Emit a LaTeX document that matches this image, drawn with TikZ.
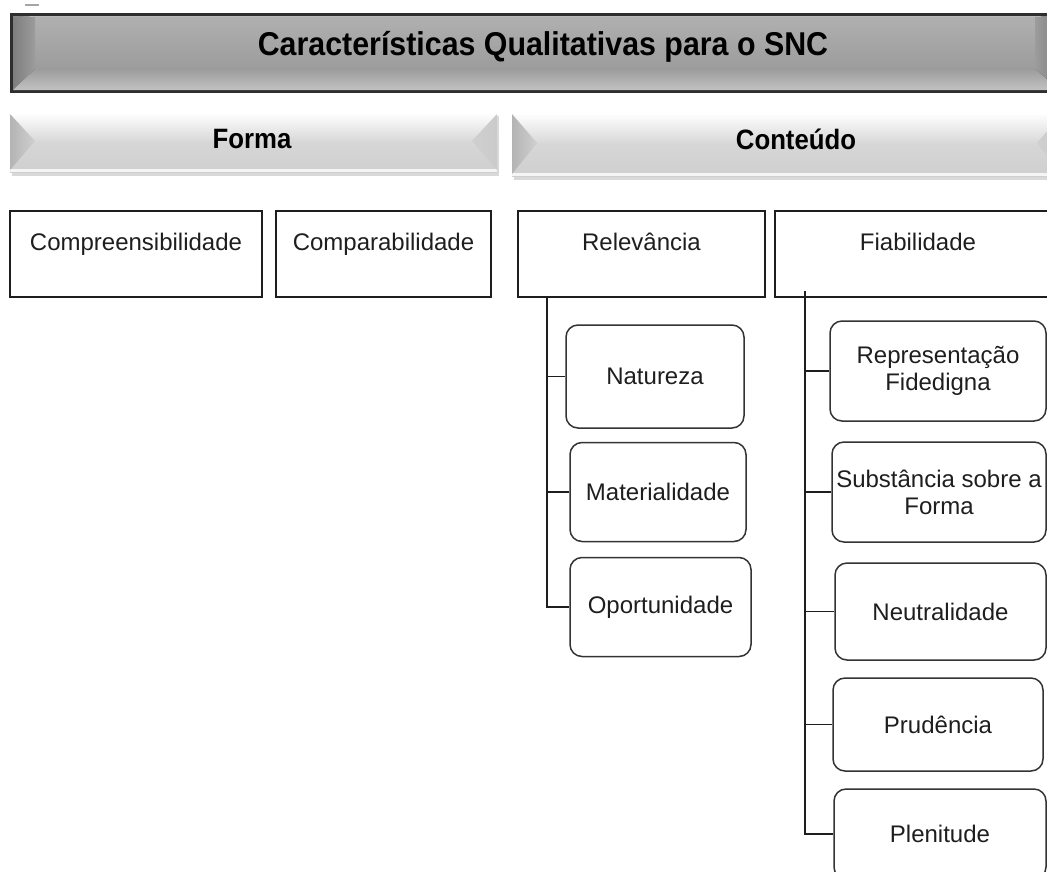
\documentclass[tikz,border=0pt]{standalone}
\usepackage{fontspec}
\setmainfont{Liberation Sans}
\newfontfamily\titlefont[FakeStretch=0.92]{Liberation Sans}
\newfontfamily\barfont[FakeStretch=0.92]{Liberation Sans}
\definecolor{barborder}{HTML}{2E2E2E}
\definecolor{barface}{HTML}{9C9C9C}
\definecolor{barlow}{HTML}{C2C2C2}
\definecolor{bardark}{HTML}{7E7E7E}
\definecolor{lightface}{HTML}{CFCFCF}
\definecolor{lightdark}{HTML}{B4B4B4}
\definecolor{inkc}{HTML}{1E1E1E}
\begin{document}
\begin{tikzpicture}[x=1pt,y=-1pt,
  catbox/.style={draw=inkc, line width=2.8pt, inner xsep=0pt, inner ysep=0pt,
    text height=39pt, text depth=47pt, font=\fontsize{24}{28}\selectfont, text=inkc},
  subbox/.style={draw=black!80, line width=1.5pt, rounded corners=12pt, align=center,
    inner sep=0pt, font=\fontsize{24}{27}\selectfont, text=inkc},
  conn/.style={draw=inkc, line width=1.5pt},
  bartext/.style={font=\fontsize{28}{30}\selectfont\barfont\bfseries, text=black},
]
\useasboundingbox (0,0) rectangle (1047,871);
\clip (0,0) rectangle (1047,871);

% small artifact
\draw[gray!70, line width=1.5pt] (25,5) -- (39,5);

% ---------- title bar ----------
\fill[barborder] (10,13) rectangle (1060,93);
\shade[top color=barface!80!white, bottom color=barface] (35,17) rectangle (1035,69);
\shade[left color=bardark, right color=barface] (13,16) -- (35,17) -- (35,69) -- (13,90) -- cycle;
\shade[top color=barface, bottom color=barlow] (13,90) -- (35,69) -- (1035,69) -- (1060,90) -- cycle;
\fill[barface!70!white] (13,16) -- (1060,16) -- (1035,17) -- (35,17) -- cycle;
\shade[left color=barface, right color=bardark] (1035,17) -- (1060,16) -- (1060,90) -- (1035,69) -- cycle;
\node[font=\fontsize{33}{36}\selectfont\titlefont\bfseries, text=black] (title) at (543,47) {Características Qualitativas para o SNC};

% ---------- Forma bar ----------
\fill[gray!30] (12,116) rectangle (499,176);
\shade[top color=white, bottom color=lightface, middle color=lightface!85!white] (10,113) rectangle (497,172);
\fill[white!92!gray] (10,169) rectangle (497,172);
\shade[left color=lightdark, right color=lightface] (10,114) -- (35,141) -- (10,170) -- cycle;
\shade[left color=lightface, right color=lightface!85!lightdark] (497,114) -- (472,141) -- (497,170) -- cycle;
\node[bartext] (forma) at (252,139) {Forma};

% ---------- Conteudo bar ----------
\fill[gray!30] (514,117) rectangle (1062,180);
\shade[top color=white, bottom color=lightface, middle color=lightface!85!white] (512,113) rectangle (1060,176);
\fill[white!92!gray] (512,173) rectangle (1060,176);
\shade[left color=lightdark, right color=lightface] (512,114) -- (537,143) -- (512,174) -- cycle;
\shade[left color=lightface, right color=lightface!85!lightdark] (1062,114) -- (1037,143) -- (1062,174) -- cycle;
\node[bartext] (conteudo) at (796,139) {Conteúdo};

% ---------- category boxes ----------
\node[catbox, minimum width=252pt] (comp) at (136,254) {Compreensibilidade};
\node[catbox, minimum width=215pt] (compa) at (383.5,254) {Comparabilidade};
\node[catbox, minimum width=247pt] (rel) at (641.5,254) {Relevância};
\node[catbox, minimum width=286pt] (fia) at (918,254) {Fiabilidade};

% ---------- Relevancia children ----------
\node[subbox, minimum width=178pt, minimum height=103pt] (nat) at (655,376.5) {Natureza};
\node[subbox, minimum width=176pt, minimum height=99pt] (mat) at (658,492) {Materialidade};
\node[subbox, minimum width=181pt, minimum height=99pt] (opo) at (660.5,607) {Oportunidade};

% ---------- Fiabilidade children ----------
\node[subbox, minimum width=216pt, minimum height=100pt] (rep) at (938,371) {Representação\\Fidedigna};
\node[subbox, minimum width=214pt, minimum height=100pt] (sub) at (939,492) {Substância sobre a\\Forma};
\node[subbox, minimum width=211pt, minimum height=97pt] (neu) at (940.5,611.5) {Neutralidade};
\node[subbox, minimum width=210pt, minimum height=93pt] (pru) at (938,724.5) {Prudência};
\node[subbox, minimum width=212pt, minimum height=90pt] (ple) at (940,834) {Plenitude};

% ---------- connectors ----------
\coordinate (relstem) at (547,297);
\coordinate (fiastem) at (805,291);
\draw[conn] (relstem) |- (opo.west);
\draw[conn] (relstem |- nat.west) -- (nat.west);
\draw[conn] (relstem |- mat.west) -- (mat.west);
\draw[conn] (fiastem) |- (ple.west);
\draw[conn] (fiastem |- rep.west) -- (rep.west);
\draw[conn] (fiastem |- sub.west) -- (sub.west);
\draw[conn] (fiastem |- neu.west) -- (neu.west);
\draw[conn] (fiastem |- pru.west) -- (pru.west);
\end{tikzpicture}
\end{document}
